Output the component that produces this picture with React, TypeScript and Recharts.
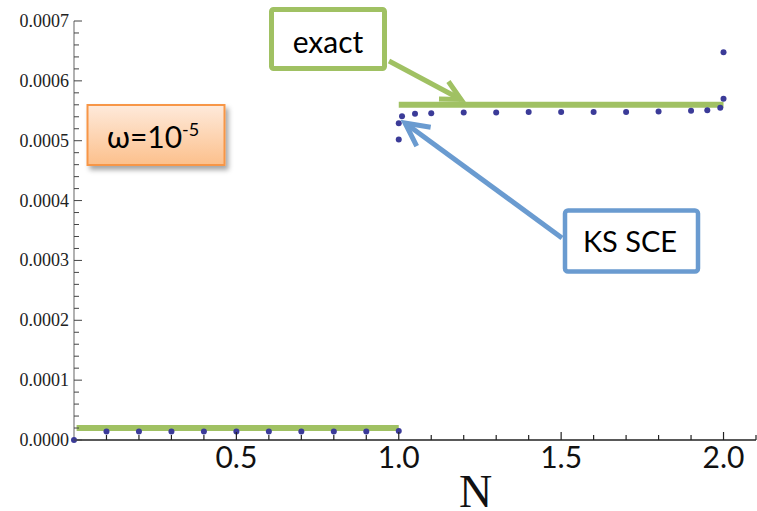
import React from 'react';
import { ComposedChart, Line, Scatter, XAxis, YAxis } from 'recharts';

// KS SCE points, N < 1 branch
const lowN = [0, 0.1, 0.2, 0.3, 0.4, 0.5, 0.6, 0.7, 0.8, 0.9, 1.0];
const lowKs = [0, 0.000014, 0.000014, 0.000014, 0.000014, 0.000014, 0.000014, 0.000014, 0.000014, 0.000014, 0.000015];

// KS SCE points, N >= 1 branch
const highN = [1.0, 1.0, 1.01, 1.05, 1.1, 1.2, 1.3, 1.4, 1.5, 1.6, 1.7, 1.8, 1.9, 1.95, 1.99, 2.0, 2.0];
const highKs = [
  0.000502, 0.000529, 0.000541, 0.000545, 0.000546, 0.000547, 0.000547, 0.000548, 0.000548,
  0.000548, 0.000548, 0.000549, 0.00055, 0.000551, 0.000555, 0.00057, 0.000648,
];

// exact result, two flat pieces
const exactLowN = [0.008, 1.0];
const exactLowV = [0.00002, 0.00002];
const exactHighN = [1.0, 2.0];
const exactHighV = [0.00056, 0.00056];

const xTicks = [0.1, 0.2, 0.3, 0.4, 0.5, 0.6, 0.7, 0.8, 0.9, 1.0, 1.1, 1.2, 1.3, 1.4, 1.5, 1.6, 1.7, 1.8, 1.9, 2.0, 2.1];
const xMajor = [0.5, 1.0, 1.5, 2.0];
const xLabels = ['0.5', '1.0', '1.5', '2.0'];

const yMajor = [0, 0.0001, 0.0002, 0.0003, 0.0004, 0.0005, 0.0006, 0.0007];
const yLabels = ['0.0000', '0.0001', '0.0002', '0.0003', '0.0004', '0.0005', '0.0006', '0.0007'];
const yTicks = Array.from({ length: 36 }, (_, i) => +(i * 0.00002).toFixed(6));

const toPts = (ns: number[], vs: number[]) => ns.map((n, i) => ({ n, v: vs[i] }));
const ksData = [...toPts(lowN, lowKs), ...toPts(highN, highKs)];
const exactLow = toPts(exactLowN, exactLowV);
const exactHigh = toPts(exactHighN, exactHighV);

const GREEN = '#a0c163';
const BLUE = '#6a9bd0';
const DOT = '#3b3b98';
const SANS = 'Lato, "Open Sans", sans-serif';
const SERIF = '"Liberation Serif", "Times New Roman", serif';

const findIdx = (arr: number[], v: number) => arr.findIndex((t) => Math.abs(t - v) < 1e-9);

const XTick = (props: any) => {
  const { x, y, payload } = props;
  const idx = findIdx(xMajor, payload.value);
  return (
    <g>
      <line x1={x} x2={x} y1={y} y2={y - (idx >= 0 ? 8 : 5)} stroke="#222" strokeWidth={1.2} />
      {idx >= 0 && (
        <text x={x} y={y + 28} textAnchor="middle" fontFamily={SANS} fontSize={30} fill="#111">
          {xLabels[idx]}
        </text>
      )}
    </g>
  );
};

const YTick = (props: any) => {
  const { x, y, payload } = props;
  const idx = findIdx(yMajor, payload.value);
  return (
    <g>
      <line x1={x} x2={x + (idx >= 0 ? 8 : 5)} y1={y} y2={y} stroke="#444" strokeWidth={1} />
      {idx >= 0 && (
        <text x={x - 5} y={y + 6} textAnchor="end" fontFamily={SERIF} fontSize={18} fill="#222">
          {yLabels[idx]}
        </text>
      )}
    </g>
  );
};

const Dot = (props: any) => <circle cx={props.cx} cy={props.cy} r={3} fill={DOT} />;

function arrow(x1: number, y1: number, x2: number, y2: number, len: number, spread: number) {
  const back = Math.atan2(y1 - y2, x1 - x2);
  const s = (spread * Math.PI) / 180;
  const a = [x2 + len * Math.cos(back + s), y2 + len * Math.sin(back + s)];
  const b = [x2 + len * Math.cos(back - s), y2 + len * Math.sin(back - s)];
  return `${a[0]},${a[1]} ${x2},${y2} ${b[0]},${b[1]}`;
}

const Notes = () => (
  <svg width={757} height={511} style={{ position: 'absolute', left: 0, top: 0, pointerEvents: 'none' }}>
    <defs>
      <linearGradient id="peach" x1="0" y1="0" x2="0" y2="1">
        <stop offset="0%" stopColor="#feeadb" />
        <stop offset="100%" stopColor="#fcc08c" />
      </linearGradient>
      <filter id="shadow" x="-20%" y="-20%" width="150%" height="160%">
        <feDropShadow dx="3" dy="4" stdDeviation="2.5" floodColor="#000" floodOpacity="0.35" />
      </filter>
    </defs>

    {/* omega box */}
    <rect x={87.5} y={105} width={137} height={60} fill="url(#peach)" stroke="#f79646" strokeWidth={2} filter="url(#shadow)" />
    <text x={107} y={148} fontFamily={SANS} fontSize={30} fill="#000">
      ω=10
      <tspan fontSize={18} dy={-12}>-5</tspan>
    </text>

    {/* exact label */}
    <line x1={389} y1={61} x2={461} y2={99.5} stroke={GREEN} strokeWidth={5} />
    <polyline points={arrow(389, 61, 461, 99.5, 22, 27)} fill="none" stroke={GREEN} strokeWidth={5} />
    <rect x={271.5} y={9.5} width={113} height={59} fill="#fff" stroke={GREEN} strokeWidth={5} rx={2} />
    <text x={328} y={53} textAnchor="middle" fontFamily={SANS} fontSize={30} fill="#000">exact</text>

    {/* KS SCE label */}
    <line x1={562} y1={238} x2={405} y2={123} stroke={BLUE} strokeWidth={5} />
    <polyline points={arrow(562, 238, 405, 123, 26, 27)} fill="none" stroke={BLUE} strokeWidth={5} />
    <rect x={565} y={210.5} width={133} height={61} fill="#fff" stroke={BLUE} strokeWidth={4.5} rx={3} />
    <text x={630} y={252} textAnchor="middle" fontFamily={SANS} fontSize={29} fill="#000">KS SCE</text>

    <text x={475.5} y={507} textAnchor="middle" fontFamily={SERIF} fontSize={46} fill="#111">N</text>
  </svg>
);

export default function App() {
  return (
    <div style={{ position: 'absolute', left: 0, top: 0, width: 757, height: 511, background: '#fff' }}>
      <ComposedChart width={757} height={511} margin={{ top: 21, right: 1, bottom: 0, left: 0 }}>
        <XAxis
          type="number"
          dataKey="n"
          domain={[0, 2.1]}
          ticks={xTicks}
          interval={0}
          height={71}
          tickSize={0}
          tickMargin={0}
          tickLine={false}
          axisLine={{ stroke: '#222', strokeWidth: 1.3 }}
          tick={XTick}
        />
        <YAxis
          type="number"
          dataKey="v"
          domain={[0, 0.0007]}
          ticks={yTicks}
          interval={0}
          width={74}
          tickSize={0}
          tickMargin={0}
          tickLine={false}
          axisLine={{ stroke: '#888', strokeWidth: 1.3 }}
          tick={YTick}
        />
        <Scatter data={ksData} dataKey="v" fill={DOT} shape={Dot} isAnimationActive={false} />
        <Line data={exactLow} dataKey="v" type="linear" stroke={GREEN} strokeWidth={6} dot={false} isAnimationActive={false} />
        <Line data={exactHigh} dataKey="v" type="linear" stroke={GREEN} strokeWidth={6} dot={false} isAnimationActive={false} />
      </ComposedChart>
      <Notes />
    </div>
  );
}
